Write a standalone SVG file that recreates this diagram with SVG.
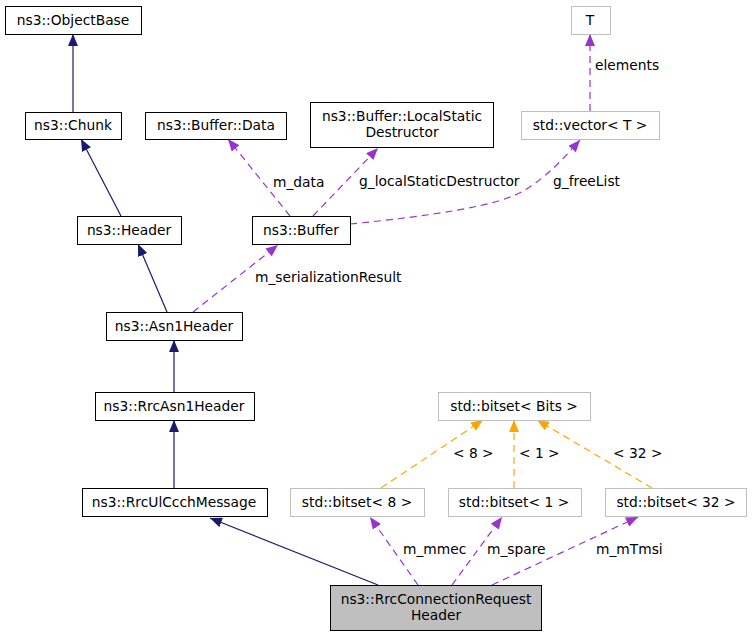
<svg xmlns="http://www.w3.org/2000/svg" width="752" height="637" viewBox="0 0 752 637">
<defs>
<style>
text{font-family:"DejaVu Sans","Liberation Sans",sans-serif;font-size:13.8px;fill:#000}
.c{text-anchor:middle}
.n{fill:#fff;stroke:#000;stroke-width:1}
.g{fill:#fff;stroke:#bfbfbf;stroke-width:1}
.m{fill:#bfbfbf;stroke:#000;stroke-width:1}
.inh{fill:none;stroke:#191970;stroke-width:1.2;marker-end:url(#an)}
.use{fill:none;stroke:#9a32cd;stroke-width:1.2;stroke-dasharray:7,5;marker-end:url(#ap)}
.tpl{fill:none;stroke:#ffa500;stroke-width:1.2;stroke-dasharray:7,5;marker-end:url(#ao)}
</style>
<marker id="an" markerUnits="userSpaceOnUse" markerWidth="12" markerHeight="10" refX="12" refY="5" orient="auto"><path d="M0,0L12,5L0,10z" fill="#191970"/></marker>
<marker id="ap" markerUnits="userSpaceOnUse" markerWidth="12" markerHeight="10" refX="12" refY="5" orient="auto"><path d="M0,0L12,5L0,10z" fill="#9a32cd"/></marker>
<marker id="ao" markerUnits="userSpaceOnUse" markerWidth="12" markerHeight="10" refX="12" refY="5" orient="auto"><path d="M0,0L12,5L0,10z" fill="#ffa500"/></marker>
</defs>
<rect width="752" height="637" fill="#fff"/>
<g id="edges">
<path class="inh" d="M73,112L73,34"/>
<path class="inh" d="M121,216L81,139"/>
<path class="inh" d="M167,312L138,244"/>
<path class="inh" d="M174,392L174,340"/>
<path class="inh" d="M174,488L174,420"/>
<path class="inh" d="M378,585L210,518"/>
<path class="use" d="M290,216L228,139"/>
<path class="use" d="M313,216L378,148"/>
<path class="use" d="M350,224C430,216 500,206 525,190C548,176 566,156 580,140"/>
<path class="use" d="M590,111L590,34"/>
<path class="use" d="M193,312L278,245"/>
<path class="tpl" d="M381,488L483,420"/>
<path class="tpl" d="M514,488L514,420"/>
<path class="tpl" d="M652,488L537,420"/>
<path class="use" d="M418,585L370,517"/>
<path class="use" d="M452,585L502,517"/>
<path class="use" d="M492,585L638,517"/>
<text x="273" y="187">m_data</text>
<text x="359" y="186">g_localStaticDestructor</text>
<text x="553" y="186">g_freeList</text>
<text x="595" y="70">elements</text>
<text x="255" y="282">m_serializationResult</text>
<text x="453" y="458">&lt; 8 &gt;</text>
<text x="519" y="458">&lt; 1 &gt;</text>
<text x="613" y="458">&lt; 32 &gt;</text>
<text x="403" y="554">m_mmec</text>
<text x="487" y="554">m_spare</text>
<text x="596" y="554">m_mTmsi</text>
</g>
<g id="ObjectBase"><rect class="n" x="5.5" y="6.5" width="136" height="28"/><text class="c" x="73" y="25">ns3::ObjectBase</text></g>
<g id="Chunk"><rect class="n" x="25.5" y="112.5" width="96" height="27"/><text class="c" x="73" y="130">ns3::Chunk</text></g>
<g id="BufferData"><rect class="n" x="145.5" y="112.5" width="141" height="27"/><text class="c" x="216" y="130">ns3::Buffer::Data</text></g>
<g id="LocalStaticDestructor"><rect class="n" x="310.5" y="102.5" width="183" height="45"/><text class="c" x="402" y="121">ns3::Buffer::LocalStatic</text><text class="c" x="402" y="137">Destructor</text></g>
<g id="T"><rect class="g" x="571.5" y="6.5" width="39" height="28"/><text class="c" x="590" y="25">T</text></g>
<g id="vector"><rect class="g" x="521.5" y="111.5" width="138" height="28"/><text class="c" x="590" y="130">std::vector&lt; T &gt;</text></g>
<g id="Header"><rect class="n" x="77.5" y="216.5" width="104" height="28"/><text class="c" x="129" y="235">ns3::Header</text></g>
<g id="Buffer"><rect class="n" x="252.5" y="216.5" width="98" height="28"/><text class="c" x="301" y="235">ns3::Buffer</text></g>
<g id="Asn1Header"><rect class="n" x="106.5" y="312.5" width="136" height="28"/><text class="c" x="174" y="331">ns3::Asn1Header</text></g>
<g id="RrcAsn1Header"><rect class="n" x="95.5" y="392.5" width="159" height="28"/><text class="c" x="174" y="411">ns3::RrcAsn1Header</text></g>
<g id="RrcUlCcchMessage"><rect class="n" x="82.5" y="488.5" width="185" height="28"/><text class="c" x="174" y="507">ns3::RrcUlCcchMessage</text></g>
<g id="bitsetBits"><rect class="g" x="438.5" y="392.5" width="152" height="28"/><text class="c" x="514" y="411">std::bitset&lt; Bits &gt;</text></g>
<g id="bitset8"><rect class="g" x="290.5" y="488.5" width="134" height="28"/><text class="c" x="357" y="507">std::bitset&lt; 8 &gt;</text></g>
<g id="bitset1"><rect class="g" x="448.5" y="488.5" width="133" height="28"/><text class="c" x="514" y="507">std::bitset&lt; 1 &gt;</text></g>
<g id="bitset32"><rect class="g" x="605.5" y="488.5" width="141" height="28"/><text class="c" x="676" y="507">std::bitset&lt; 32 &gt;</text></g>
<g id="RrcConnectionRequestHeader"><rect class="m" x="330.5" y="585.5" width="211" height="45"/><text class="c" x="436" y="604">ns3::RrcConnectionRequest</text><text class="c" x="436" y="620">Header</text></g>
</svg>
